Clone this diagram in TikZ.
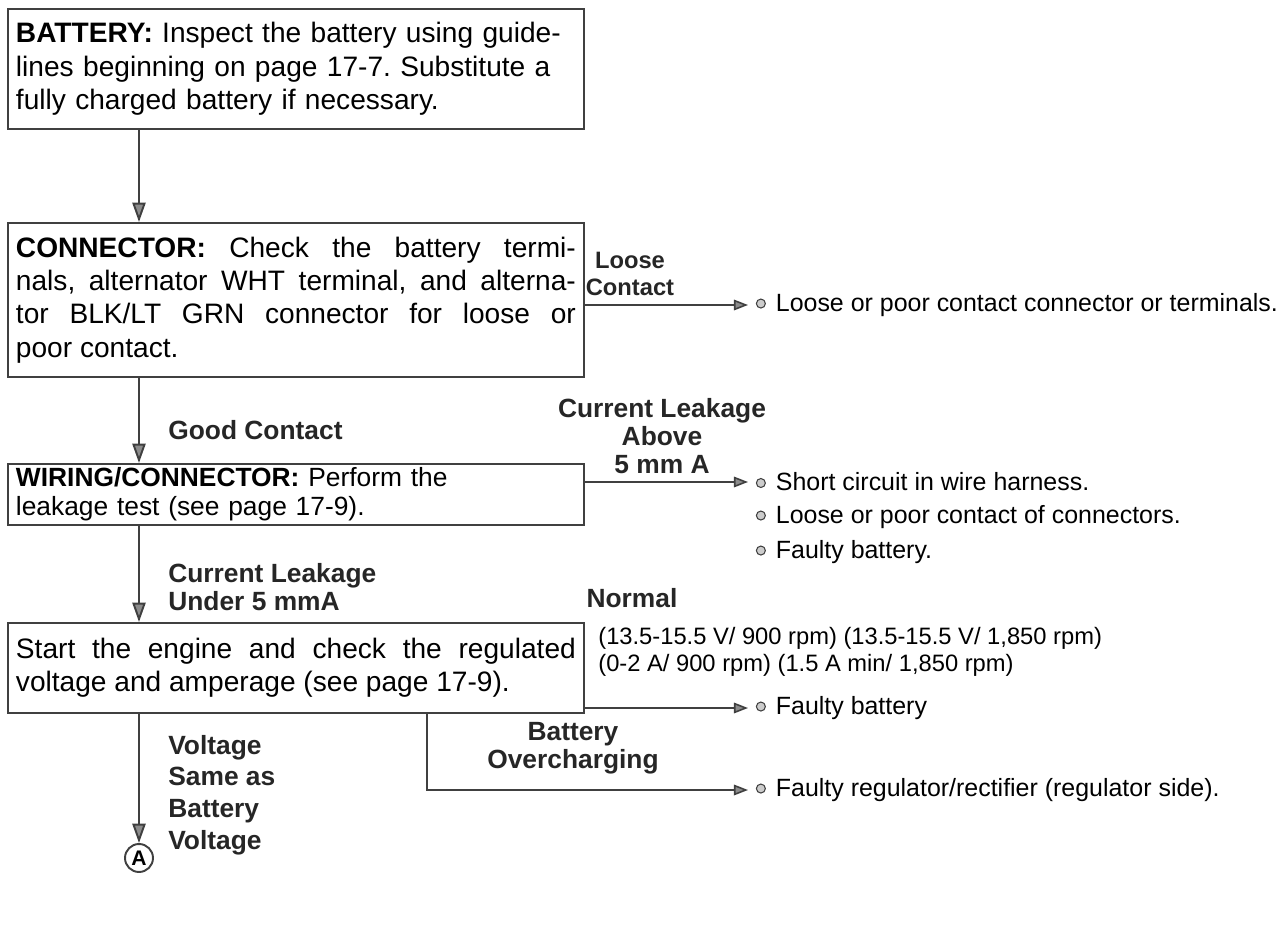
\documentclass[tikz,border=0pt]{standalone}
\usepackage{fontspec}
\setmainfont{Liberation Sans}
\usetikzlibrary{arrows.meta,positioning,calc}
\tolerance=10000
\hbadness=10000
\frenchspacing

\newcommand{\boxfont}{\fontsize{16}{19}\selectfont}
\newcommand{\smallboxfont}{\fontsize{15}{16.5}\selectfont}
\newcommand{\tagfont}{\fontsize{15}{16}\selectfont\bfseries}
\newcommand{\itemfont}{\fontsize{14.2}{16}\selectfont}
\newcommand{\specfont}{\fontsize{13.5}{15.5}\selectfont}
\newcommand{\itm}{\hspace{0.15cm}\tikz[baseline=-0.6ex]\draw[black!75,fill=black!20,line width=0.6pt] (0,0) circle (0.09cm);\hspace{0.2cm}}

\tikzset{
  stepbox/.style={draw=black!75, line width=1.1pt, anchor=north west,
    inner xsep=0.16cm, inner ysep=0pt, text width=11.2cm, font=\boxfont},
  tag/.style={font=\tagfont, text=black!85, inner sep=0pt},
  fault/.style={font=\itemfont, anchor=west, inner sep=0pt},
  flow/.style={draw=black!75, line width=1.1pt, -{Triangle[length=11pt,width=7.5pt,fill=black!45]}},
  side/.style={draw=black!75, line width=0.9pt, -{Triangle[length=8pt,width=6pt,fill=black!45]}},
}

\begin{document}
\begin{tikzpicture}[x=0.02cm,y=-0.02cm]
\useasboundingbox (0,0) rectangle (1285,936);

% test steps
\node[stepbox, align=left, minimum height=2.4cm] (batt) at (7,8)
  {\textbf{BATTERY:} Inspect the battery using guide-\\lines beginning on page 17-7. Substitute a\\fully charged battery if necessary.};
\node[stepbox, align=justify, minimum height=3.08cm] (conn) at (7,222)
  {\textbf{CONNECTOR:} Check the battery termi-\linebreak nals, alternator WHT terminal, and alterna-\linebreak tor BLK/LT GRN connector for loose or\linebreak poor contact.};
\node[stepbox, align=left, minimum height=1.22cm, font=\smallboxfont] (wire) at (7,463)
  {\textbf{WIRING/CONNECTOR:} Perform the\\leakage test (see page 17-9).};
\node[stepbox, align=justify, minimum height=1.8cm] (check) at (7,622)
  {Start the engine and check the regulated\linebreak voltage and amperage (see page 17-9).};
\node[circle, draw=black!75, line width=1.1pt, inner sep=0pt, minimum size=0.56cm,
  font=\fontsize{12}{12}\selectfont\bfseries] (refA) at (139,858) {A};

% branch labels
\node[tag, align=center, font=\fontsize{13.5}{15.5}\selectfont\bfseries] (loose) at (630,274) {Loose\\Contact};
\node[tag, anchor=west] (good) at (168,430) {Good Contact};
\node[tag, align=center] (above) at (662,436) {Current Leakage\\Above\\5 mm A};
\node[tag, align=left, anchor=west] (under) at (168,587) {Current Leakage\\Under 5 mmA};
\node[tag] (normal) at (632,598) {Normal};
\node[fault, align=left, font=\specfont] (spec) at (598,652)
  {(13.5-15.5 V/ 900 rpm) (13.5-15.5 V/ 1,850 rpm)\\(0-2 A/ 900 rpm) (1.5 A min/ 1,850 rpm)};
\node[tag, align=center] (over) at (573,748) {Battery\\Overcharging};
\node[tag, align=left, anchor=west, font=\fontsize{15}{18}\selectfont\bfseries] (same) at (168,795) {Voltage\\Same as\\Battery\\Voltage};

% possible faults
\node[fault] (f1) at (748,305) {\itm Loose or poor contact connector or terminals.};
\node[fault] (f2) at (748,482) {\itm Short circuit in wire harness.};
\node[fault] (f3) at (748,517) {\itm Loose or poor contact of connectors.};
\node[fault] (f4) at (748,552) {\itm Faulty battery.};
\node[fault] (f5) at (748,708) {\itm Faulty battery};
\node[fault] (f6) at (748,790) {\itm Faulty regulator/rectifier (regulator side).};

% connectors
\coordinate (spine) at (139,0);
\coordinate (split) at (427,0);
\draw[flow] (batt.south -| spine) -- (conn.north -| spine);
\draw[flow] (conn.south -| spine) -- (wire.north -| spine);
\draw[flow] (wire.south -| spine) -- (check.north -| spine);
\draw[flow] (check.south -| spine) -- (refA.north);
\draw[side] (conn.east |- f1.west) -- (f1.west);
\draw[side] (wire.east |- f2.west) -- (f2.west);
\draw[side] (check.east |- f5.west) -- (f5.west);
\draw[side] (check.south -| split) |- (f6.west);
\end{tikzpicture}
\end{document}
